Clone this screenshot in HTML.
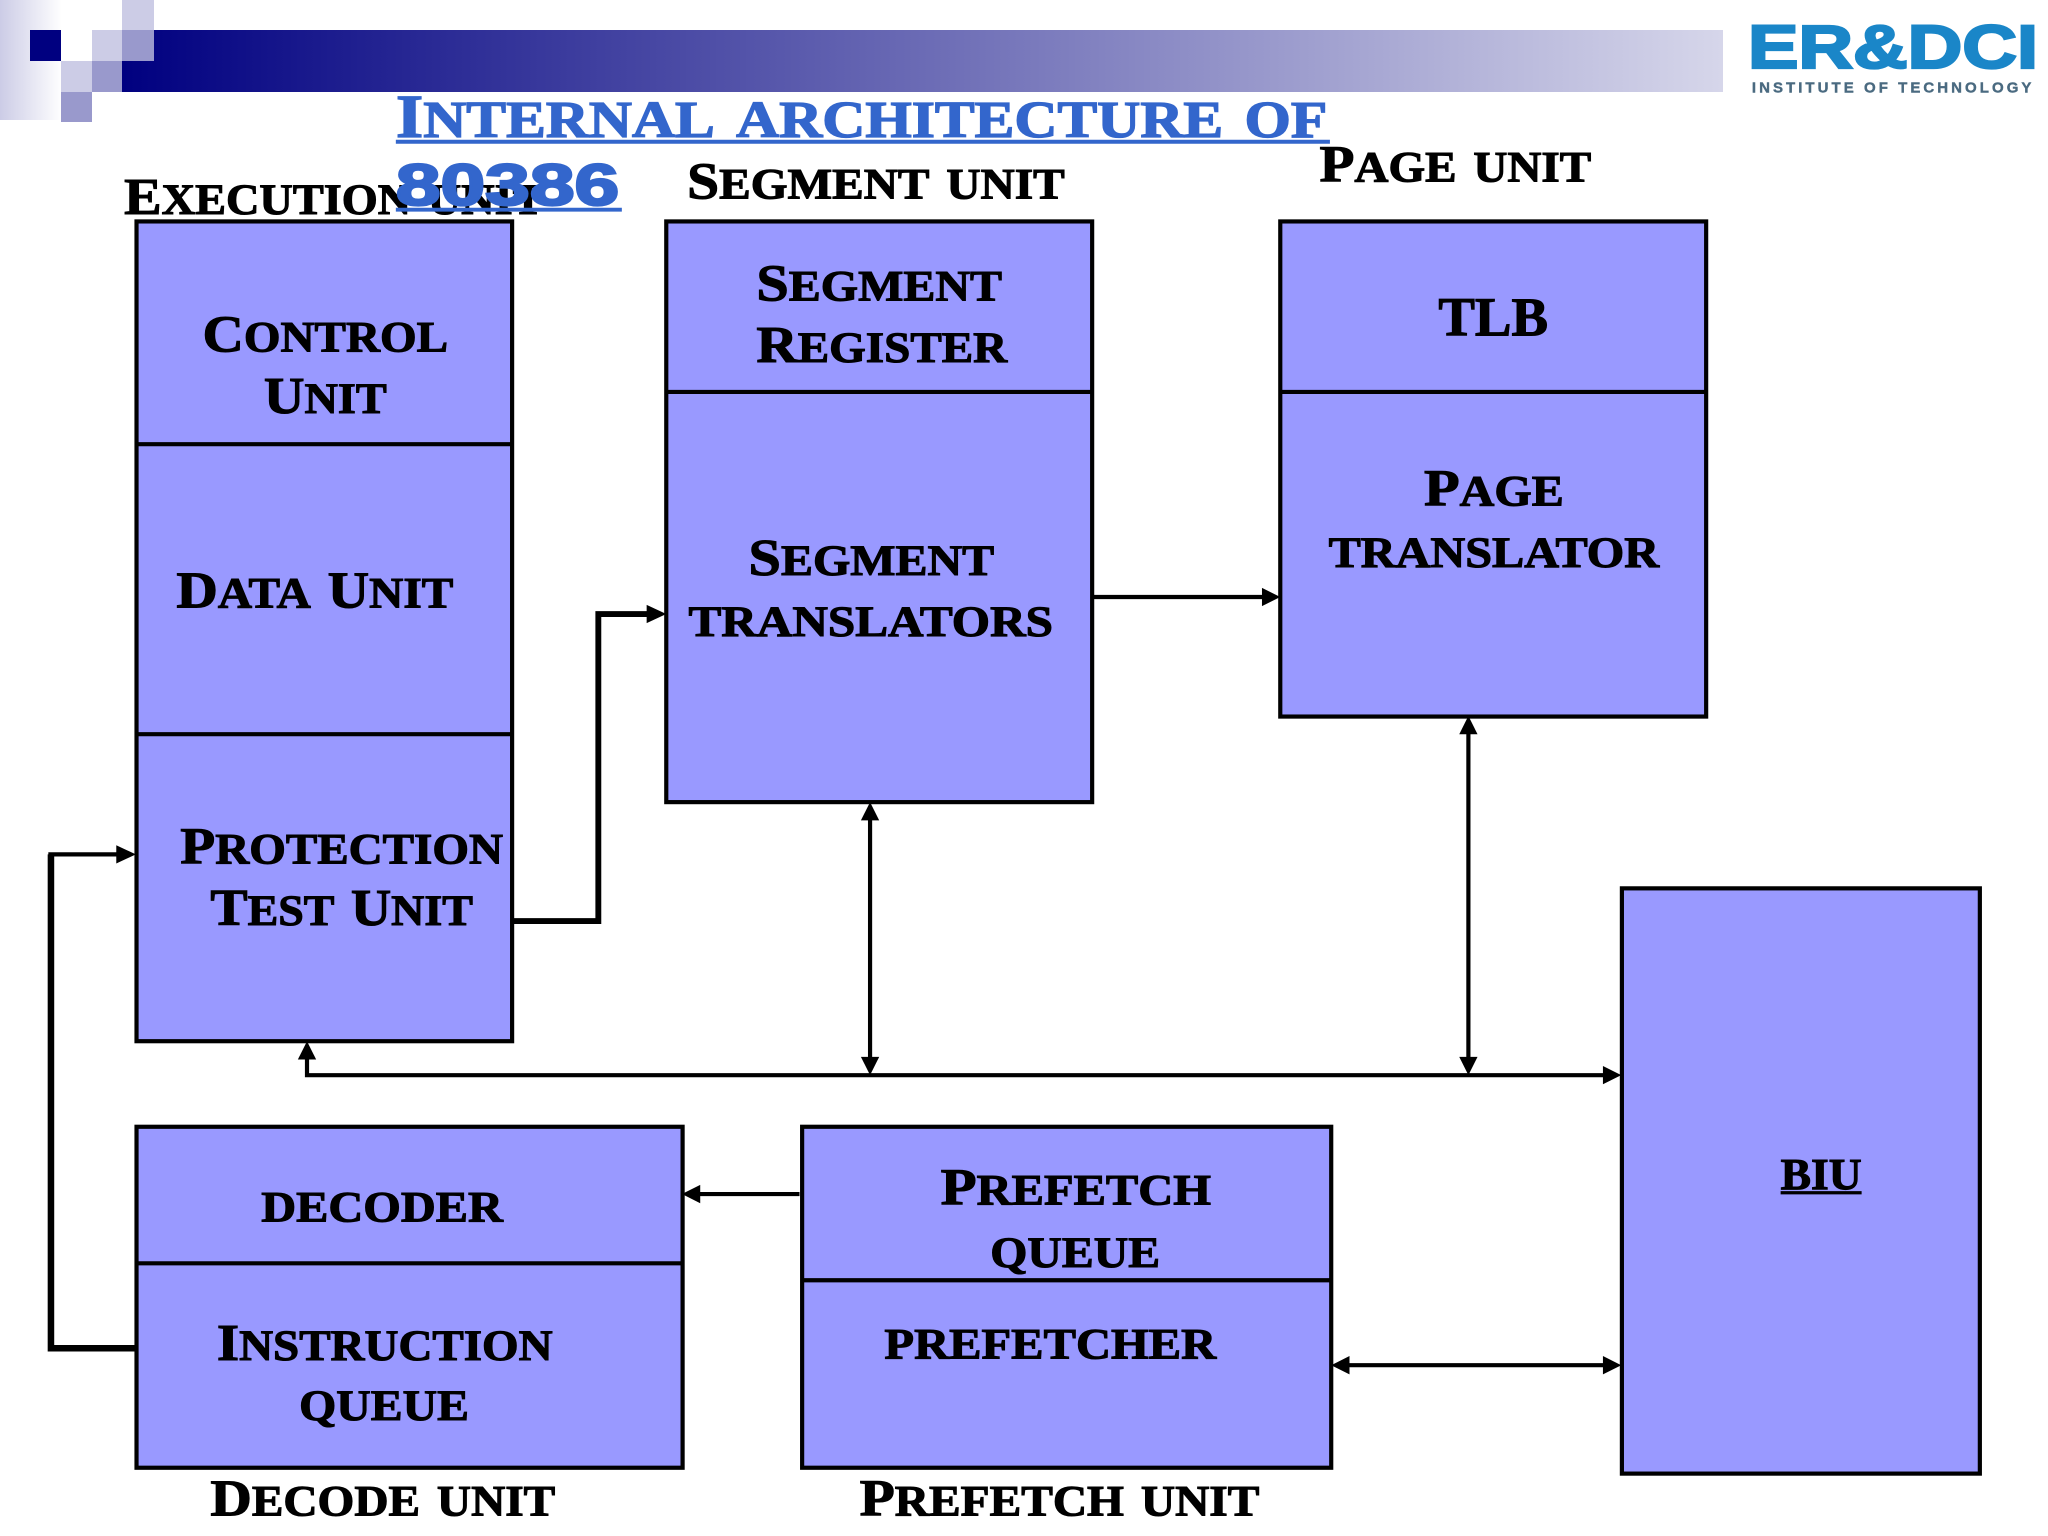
<!DOCTYPE html>
<html><head><meta charset="utf-8"><style>
html,body{margin:0;padding:0;background:#fff;width:2048px;height:1536px;overflow:hidden}
svg{display:block}
text{font-family:"Liberation Serif",serif;font-weight:bold;font-variant:small-caps;font-size:47px;fill:#000;stroke:#000;stroke-width:.8}
tspan{font-size:40px}
.t{fill:#3366cc;stroke:#3366cc;font-size:57px;stroke-width:1}
.t tspan{font-size:47px}
</style></head><body>
<svg xmlns="http://www.w3.org/2000/svg" width="2048" height="1536" viewBox="0 0 2048 1536">
<defs>
<linearGradient id="bar" x1="0" x2="1" y1="0" y2="0"><stop offset="0" stop-color="#000080"/><stop offset="1" stop-color="#d6d6ea"/></linearGradient>
<linearGradient id="lg" x1="0" x2="1" y1="0" y2="0"><stop offset="0" stop-color="#ccccE6"/><stop offset="1" stop-color="#ffffff"/></linearGradient>
</defs>
<rect width="2048" height="1536" fill="#fff"/>
<rect x="122" y="30" width="1601" height="62" fill="url(#bar)"/>
<rect x="0" y="0" width="62" height="120" fill="url(#lg)"/>
<rect x="30" y="30" width="31" height="31" fill="#000080"/>
<rect x="61" y="0" width="61" height="61" fill="#fff"/>
<rect x="92" y="30" width="30" height="31" fill="#ccccE6"/>
<rect x="122" y="0" width="32" height="30" fill="#ccccE6"/>
<rect x="122" y="30" width="32" height="31" fill="#9999cc"/>
<rect x="61" y="61" width="31" height="31" fill="#ccccE6"/>
<rect x="92" y="61" width="30" height="31" fill="#9999cc"/>
<rect x="61" y="92" width="31" height="30" fill="#9999cc"/>
<g transform="scale(1.3064)">
<g fill="#9999ff" stroke="#000" stroke-width="3.200">
<rect x="104.500" y="169.500" width="287.500" height="627.500"/>
<rect x="510" y="169.500" width="326" height="444.500"/>
<rect x="980" y="169.500" width="326" height="379"/>
<rect x="1241.500" y="680" width="274" height="448"/>
<rect x="104.500" y="862.500" width="418" height="261"/>
<rect x="614" y="862.500" width="405" height="261"/>
</g>
<g stroke="#000" stroke-width="3.200" fill="none">
<path d="M104 340H392M104 562H392M510 300H836M980 300H1306M104 967H522M614 980H1019"/>
<path d="M392 705H458V470H498" stroke-width="4.500"/>
<path d="M104 1032H39V654" stroke-width="5"/>
<path d="M37 654H92M836 457H968M666 626V812M1124 560V812M235 810V823H1230M612 914H534M1031 1045H1230" stroke-width="3.200"/>
</g>
<g fill="#000">
<path d="M510 470L495 463V477Z"/>
<path d="M104 654L89 647V661Z"/>
<path d="M980 457L966 450V464Z"/>
<path d="M666 614L659 628H673Z"/>
<path d="M666 823L659 809H673Z"/>
<path d="M1124 548L1117 562H1131Z"/>
<path d="M1124 823L1117 809H1131Z"/>
<path d="M235 797L228 811H242Z"/>
<path d="M1241 823L1227 816V830Z"/>
<path d="M522 914L536 907V921Z"/>
<path d="M1019 1045L1033 1038V1052Z"/>
<path d="M1241 1045L1227 1038V1052Z"/>
</g>
<g transform="translate(0,-1)">
<text x="95" y="165" textLength="321" lengthAdjust="spacingAndGlyphs"><tspan>E</tspan>xecution unit</text>
<text class="t" x="303" y="106" textLength="713" lengthAdjust="spacingAndGlyphs"><tspan>I</tspan>nternal architecture of</text>
<text class="t" x="303" y="158" textLength="171" lengthAdjust="spacingAndGlyphs" style="font-family:'Liberation Sans',sans-serif;font-size:45px;font-variant:normal;stroke-width:1.800">80386</text>
<text x="526" y="153" textLength="289" lengthAdjust="spacingAndGlyphs"><tspan>S</tspan>egment unit</text>
<text x="1010" y="140" textLength="208" lengthAdjust="spacingAndGlyphs"><tspan>P</tspan>age unit</text>
<text x="155" y="270" textLength="188" lengthAdjust="spacingAndGlyphs"><tspan>C</tspan>ontrol</text>
<text x="202" y="317" textLength="94" lengthAdjust="spacingAndGlyphs"><tspan>U</tspan>nit</text>
<text x="579" y="231" textLength="188" lengthAdjust="spacingAndGlyphs"><tspan>S</tspan>egment</text>
<text x="579" y="278" textLength="192" lengthAdjust="spacingAndGlyphs"><tspan>R</tspan>egister</text>
<text x="1101" y="258" textLength="84" lengthAdjust="spacingAndGlyphs" style="font-size:42px">TLB</text>
<text x="1090" y="388" textLength="107" lengthAdjust="spacingAndGlyphs"><tspan>P</tspan>age</text>
<text x="1017" y="435" textLength="253" lengthAdjust="spacingAndGlyphs">translator</text>
<text x="135" y="466" textLength="212" lengthAdjust="spacingAndGlyphs"><tspan>D</tspan>ata <tspan>U</tspan>nit</text>
<text x="573" y="441" textLength="188" lengthAdjust="spacingAndGlyphs"><tspan>S</tspan>egment</text>
<text x="527" y="488" textLength="279" lengthAdjust="spacingAndGlyphs">translators</text>
<text x="138" y="662" textLength="247" lengthAdjust="spacingAndGlyphs"><tspan>P</tspan>rotection</text>
<text x="161" y="709" textLength="201" lengthAdjust="spacingAndGlyphs"><tspan>T</tspan>est <tspan>U</tspan>nit</text>
<text x="200" y="936" textLength="185" lengthAdjust="spacingAndGlyphs">decoder</text>
<text x="166" y="1042" textLength="257" lengthAdjust="spacingAndGlyphs"><tspan>I</tspan>nstruction</text>
<text x="229" y="1088" textLength="130" lengthAdjust="spacingAndGlyphs">queue</text>
<text x="720" y="923" textLength="207" lengthAdjust="spacingAndGlyphs"><tspan>P</tspan>refetch</text>
<text x="758" y="971" textLength="130" lengthAdjust="spacingAndGlyphs">queue</text>
<text x="677" y="1041" textLength="254" lengthAdjust="spacingAndGlyphs">prefetcher</text>
<text x="1363" y="911" textLength="62" lengthAdjust="spacingAndGlyphs" style="font-size:34px;font-variant:normal">BIU</text>
<text x="161" y="1161" textLength="264" lengthAdjust="spacingAndGlyphs"><tspan>D</tspan>ecode unit</text>
<text x="658" y="1161" textLength="306" lengthAdjust="spacingAndGlyphs"><tspan>P</tspan>refetch unit</text>
</g>
<path d="M303 108.500H1018M303 160.500H476" stroke="#3366cc" stroke-width="3"/>
<path d="M1363 913H1425" stroke="#000" stroke-width="2.500"/>
<text x="1338" y="52" textLength="222" lengthAdjust="spacingAndGlyphs" style="font-family:'Liberation Sans',sans-serif;font-size:47px;font-variant:normal;fill:#1a86c8;stroke:#1a86c8;stroke-width:1.800">ER&amp;DCI</text>
<text x="1341" y="71" textLength="214" lengthAdjust="spacing" style="font-family:'Liberation Sans',sans-serif;font-size:11.500px;font-variant:normal;fill:#4a6a80;stroke:#4a6a80;stroke-width:.3">INSTITUTE OF TECHNOLOGY</text>
</g>
</svg>
</body></html>
